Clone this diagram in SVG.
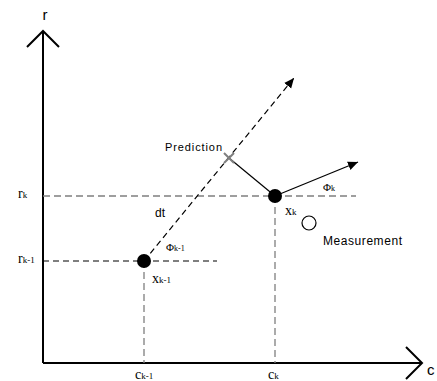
<svg xmlns="http://www.w3.org/2000/svg" width="437" height="381" viewBox="0 0 437 381">
<defs>
<marker id="ah" viewBox="0 0 10 10" refX="10" refY="5" markerWidth="10" markerHeight="10" markerUnits="userSpaceOnUse" orient="auto">
<path d="M0,0.5 L10,5 L0,9.5 Z" fill="#000"/>
</marker>
<style>
.axis{stroke:#000;stroke-width:2;fill:none}
.dg{stroke:#7f7f7f;stroke-width:1.3;stroke-dasharray:7 4;fill:none}
.db{stroke:#000;stroke-width:1.2;stroke-dasharray:6 4;fill:none}
.sol{stroke:#000;stroke-width:1.2;fill:none}
.serif{font-family:"Liberation Serif","Times New Roman",serif;fill:#000}
.sans{font-family:"Liberation Sans",Arial,sans-serif;fill:#000}
</style>
</defs>
<rect width="437" height="381" fill="#fff"/>
<g id="axes">
<path class="axis" d="M43,363 V31 M27,47 L43,31 L59,47"/>
<path class="axis" d="M43,363 H422 M406,347 L422,363 L406,379"/>
<text class="sans" x="45" y="20" font-size="15" text-anchor="middle">r</text>
<text class="sans" x="427" y="375" font-size="15">c</text>
</g>
<g id="connectors">
<line class="dg" x1="43" y1="196" x2="356" y2="196"/>
<line class="db" x1="43" y1="261" x2="217" y2="261"/>
<line class="dg" x1="144" y1="261" x2="144" y2="363"/>
<line class="dg" x1="275" y1="196" x2="275" y2="363"/>
<line class="db" x1="144" y1="261" x2="294" y2="78" marker-end="url(#ah)"/>
<line class="sol" x1="229" y1="158" x2="275" y2="196"/>
<line class="sol" x1="275" y1="196" x2="358" y2="162" marker-end="url(#ah)"/>
</g>
<g id="x_k_1">
<circle cx="144" cy="261" r="7" fill="#000"/>
<text class="serif" x="152" y="283" font-size="14">x<tspan font-size="9">k-1</tspan></text>
<text class="serif" x="166" y="251" font-size="11">Φ<tspan font-size="8">k-1</tspan></text>
</g>
<g id="x_k">
<circle cx="275" cy="196" r="7" fill="#000"/>
<text class="serif" x="285" y="215" font-size="14">x<tspan font-size="9">k</tspan></text>
<text class="serif" x="323" y="191" font-size="11">Φ<tspan font-size="8">k</tspan></text>
</g>
<g id="prediction">
<path d="M224,153 L234,163 M234,153 L224,163" stroke="#7f7f7f" stroke-width="2"/>
<text class="sans" x="165" y="151" font-size="11" textLength="57">Prediction</text>
</g>
<g id="measurement">
<circle cx="309" cy="223" r="7" fill="#fff" stroke="#000" stroke-width="1.2"/>
<text class="sans" x="323" y="245" font-size="12" textLength="79">Measurement</text>
</g>
<g id="labels">
<text class="sans" x="155" y="217" font-size="12">dt</text>
<text class="serif" x="18" y="198" font-size="14">r<tspan font-size="9">k</tspan></text>
<text class="serif" x="18" y="263" font-size="14">r<tspan font-size="9">k-1</tspan></text>
<text class="serif" x="135" y="379" font-size="14">c<tspan font-size="9">k-1</tspan></text>
<text class="serif" x="268" y="379" font-size="14">c<tspan font-size="9">k</tspan></text>
</g>
</svg>
